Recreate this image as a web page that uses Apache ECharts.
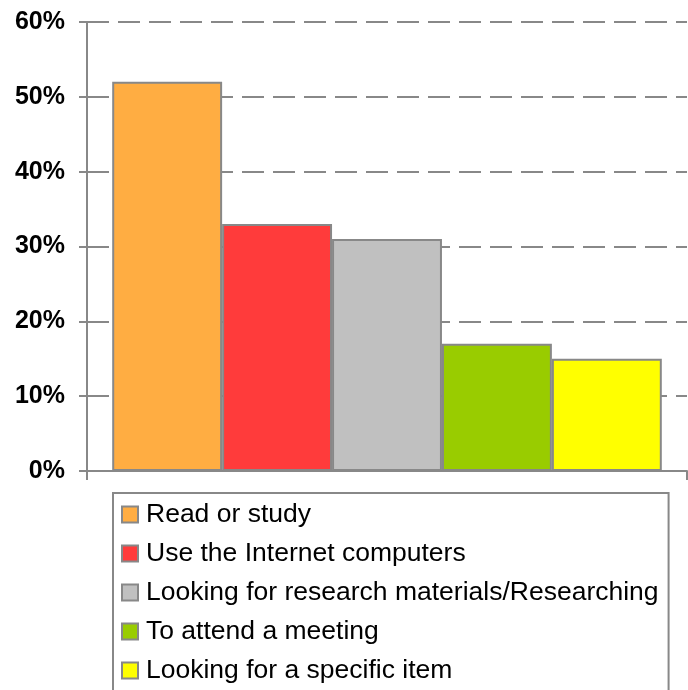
<!DOCTYPE html>
<html>
<head>
<meta charset="utf-8">
<script src="https://cdn.jsdelivr.net/npm/echarts@6/dist/echarts.min.js"></script>
<style>
  html, body { margin: 0; padding: 0; background: #fff; }
  #chart { width: 688px; height: 690px; }
</style>
</head>
<body>
<div id="chart"></div>
<script>
// reasons for visiting, share of respondents (%)
var reasons = [
    'Read or study',
    'Use the Internet computers',
    'Looking for research materials/Researching',
    'To attend a meeting',
    'Looking for a specific item'
];
var shares = [52, 33, 31, 17, 15];
var barColors = ['#FFAD42', '#FF3B3B', '#C0C0C0', '#99CC00', '#FFFF00'];
var yTicks = { min: 0, max: 60, interval: 10 };

var myChart = echarts.init(document.getElementById('chart'));

let seriesList = reasons.map(function (name, i) {
    return {
        name: name,
        type: 'bar',
        data: [shares[i]],
        barGap: '0%',
        barCategoryGap: '8.4%',
        itemStyle: {
            color: barColors[i],
            borderColor: '#888888',
            borderWidth: 2
        }
    };
});

let option = {
    backgroundColor: '#ffffff',
    animation: false,
    grid: {
        left: 87,
        right: 1,
        top: 22,
        bottom: 219,
        containLabel: false
    },
    legend: {
        orient: 'vertical',
        left: 113,
        top: 493,
        height: 300,
        data: reasons,
        icon: 'rect',
        itemWidth: 16,
        itemHeight: 16,
        itemGap: 12,
        padding: [8, 10, 20, 8],
        borderColor: '#888888',
        borderWidth: 2,
        textStyle: {
            color: '#000',
            fontFamily: 'Liberation Sans, Arial, sans-serif',
            fontSize: 26.5,
            lineHeight: 24,
            padding: [0, 0, 0, 3]
        }
    },
    xAxis: {
        type: 'category',
        data: [''],
        axisLine: {
            lineStyle: { color: '#888888', width: 2 }
        },
        axisTick: {
            show: true,
            length: 9,
            lineStyle: { color: '#888888', width: 2 }
        },
        axisLabel: { show: false }
    },
    yAxis: {
        type: 'value',
        min: yTicks.min,
        max: yTicks.max,
        interval: yTicks.interval,
        axisLine: {
            show: true,
            lineStyle: { color: '#888888', width: 2 }
        },
        axisTick: {
            show: true,
            length: 8,
            lineStyle: { color: '#888888', width: 2 }
        },
        axisLabel: {
            formatter: '{value}%',
            color: '#000',
            fontWeight: 'bold',
            fontFamily: 'Liberation Sans, Arial, sans-serif',
            fontSize: 25,
            margin: 22
        },
        splitLine: {
            show: true,
            lineStyle: {
                color: '#888888',
                width: 2,
                type: [22, 9]
            }
        }
    },
    series: seriesList
};

myChart.setOption(option);
</script>
</body>
</html>
